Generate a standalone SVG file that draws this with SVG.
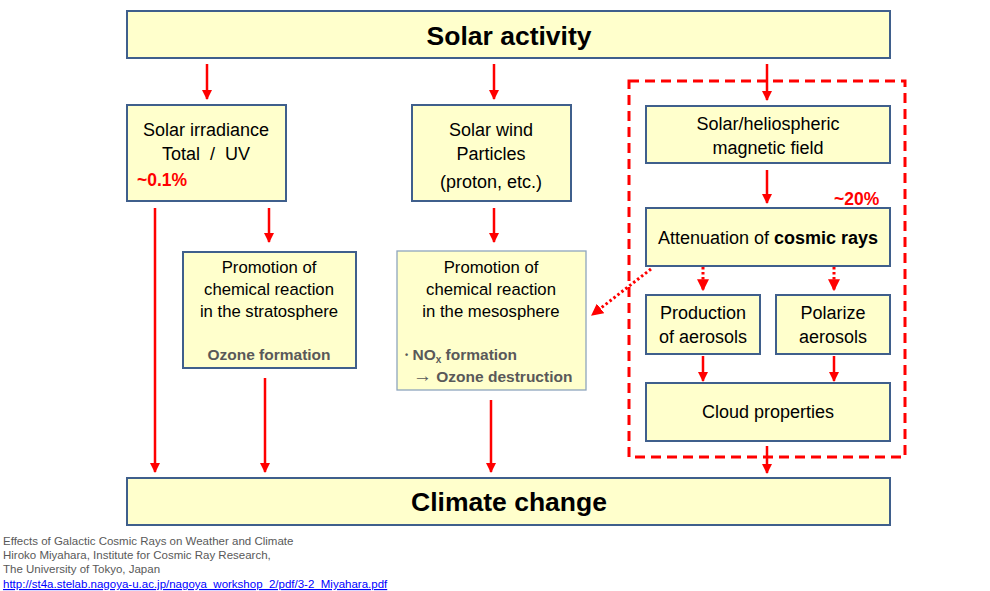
<svg xmlns="http://www.w3.org/2000/svg" width="990" height="591" viewBox="0 0 990 591">
<style>
.box{fill:#FFFFCC;stroke:#3F5F8C;stroke-width:2}
.box2{fill:#FFFFCC;stroke:#8EA5BD;stroke-width:1.3}
.t{font-family:"Liberation Sans",Arial,sans-serif;font-size:18px;fill:#000;text-anchor:middle;white-space:pre}
.t.s{font-size:16.7px}
.big{font-family:"Liberation Sans",Arial,sans-serif;font-size:26.5px;font-weight:bold;fill:#000;text-anchor:middle}
.g{font-family:"Liberation Sans",Arial,sans-serif;font-size:15.5px;font-weight:bold;fill:#595959}
.red{font-family:"Liberation Sans",Arial,sans-serif;font-size:17.5px;font-weight:bold;fill:#FF0000}
.ar{stroke:#FF0000;stroke-width:2.5;fill:none;marker-end:url(#ah)}
.dot{stroke:#FF0000;stroke-width:3;fill:none;stroke-dasharray:2.5 2.5;marker-end:url(#ah)}
.foot{font-family:"Liberation Sans",Arial,sans-serif;font-size:11.5px;fill:#595959}
</style>
<defs>
<marker id="ah" viewBox="0 0 10 10" refX="9" refY="5" markerWidth="4" markerHeight="4" orient="auto" markerUnits="strokeWidth">
<path d="M0,0 L10,5 L0,10 z" fill="#FF0000"/>
</marker>
</defs>
<rect width="990" height="591" fill="#FFFFFF"/>
<g id="connectors">
<rect x="629" y="81" width="276" height="376" fill="none" stroke="#FF0000" stroke-width="3" stroke-dasharray="10 6"/>
<line class="ar" x1="207" y1="64" x2="207" y2="99"/>
<line class="ar" x1="494" y1="64" x2="494" y2="99"/>
<line class="ar" x1="767" y1="64" x2="767" y2="100"/>
<line class="ar" x1="155" y1="208" x2="155" y2="472"/>
<line class="ar" x1="269" y1="208" x2="269" y2="242"/>
<line class="ar" x1="494" y1="208" x2="494" y2="242"/>
<line class="ar" x1="265" y1="378" x2="265" y2="472"/>
<line class="ar" x1="491" y1="400" x2="491" y2="472"/>
<line class="ar" x1="767" y1="170" x2="767" y2="203"/>
<line class="dot" x1="703" y1="267" x2="703" y2="290"/>
<line class="dot" x1="834" y1="267" x2="834" y2="290"/>
<line class="dot" x1="651" y1="269" x2="592" y2="315"/>
<line class="ar" x1="703" y1="356" x2="703" y2="381"/>
<line class="ar" x1="834" y1="356" x2="834" y2="381"/>
<line class="ar" x1="767" y1="446" x2="767" y2="473"/>
</g>
<g id="solar-activity">
<rect class="box" x="127" y="11" width="763" height="47"/>
<text class="big" x="509" y="45">Solar activity</text>
</g>
<g id="solar-irradiance">
<rect class="box" x="127" y="105" width="159" height="96"/>
<text class="t" x="206" y="136">Solar irradiance</text>
<text class="t" x="206" y="160">Total  /  UV</text>
<text class="red" x="137" y="186">~0.1%</text>
</g>
<g id="solar-wind">
<rect class="box" x="412" y="105" width="159" height="96"/>
<text class="t" x="491" y="136">Solar wind</text>
<text class="t" x="491" y="160">Particles</text>
<text class="t" x="491" y="188">(proton, etc.)</text>
</g>
<g id="magnetic-field">
<rect class="box" x="646" y="106" width="244" height="57"/>
<text class="t" x="768" y="130">Solar/heliospheric</text>
<text class="t" x="768" y="154">magnetic field</text>
</g>
<g id="attenuation">
<text class="red" x="834" y="205">~20%</text>
<rect class="box" x="646" y="208" width="244" height="58"/>
<text class="t" x="768" y="244">Attenuation of <tspan font-weight="bold">cosmic rays</tspan></text>
</g>
<g id="stratosphere">
<rect class="box" x="183" y="252" width="173" height="116"/>
<text class="t s" x="269" y="273">Promotion of</text>
<text class="t s" x="269" y="295">chemical reaction</text>
<text class="t s" x="269" y="317">in the stratosphere</text>
<text class="g" x="269" y="360" text-anchor="middle">Ozone formation</text>
</g>
<g id="mesosphere">
<rect class="box2" x="397" y="251" width="189" height="139"/>
<text class="t s" x="491" y="273">Promotion of</text>
<text class="t s" x="491" y="295">chemical reaction</text>
<text class="t s" x="491" y="317">in the mesosphere</text>
<text class="g" x="405" y="360"><tspan font-size="9" dy="-2">•</tspan><tspan dy="2"> NO</tspan><tspan font-size="10" dy="3">x</tspan><tspan dy="-3"> formation</tspan></text>
<text class="g" x="413" y="382"><tspan font-size="19" font-weight="normal">→</tspan> Ozone destruction</text>
</g>
<g id="production">
<rect class="box" x="646" y="295" width="114" height="59"/>
<text class="t" x="703" y="319">Production</text>
<text class="t" x="703" y="343">of aerosols</text>
</g>
<g id="polarize">
<rect class="box" x="776" y="295" width="114" height="59"/>
<text class="t" x="833" y="319">Polarize</text>
<text class="t" x="833" y="343">aerosols</text>
</g>
<g id="cloud">
<rect class="box" x="646" y="383" width="244" height="58"/>
<text class="t" x="768" y="418">Cloud properties</text>
</g>
<g id="climate-change">
<rect class="box" x="127" y="478" width="763" height="47"/>
<text class="big" x="509" y="511">Climate change</text>
</g>
<g id="footnote">
<text class="foot" x="3" y="545">Effects of Galactic Cosmic Rays on Weather and Climate</text>
<text class="foot" x="3" y="559">Hiroko Miyahara, Institute for Cosmic Ray Research,</text>
<text class="foot" x="3" y="573">The University of Tokyo, Japan</text>
<text class="foot" x="3" y="588" style="fill:#0000FF" text-decoration="underline">http://st4a.stelab.nagoya-u.ac.jp/nagoya_workshop_2/pdf/3-2_Miyahara.pdf</text>
</g>
</svg>
